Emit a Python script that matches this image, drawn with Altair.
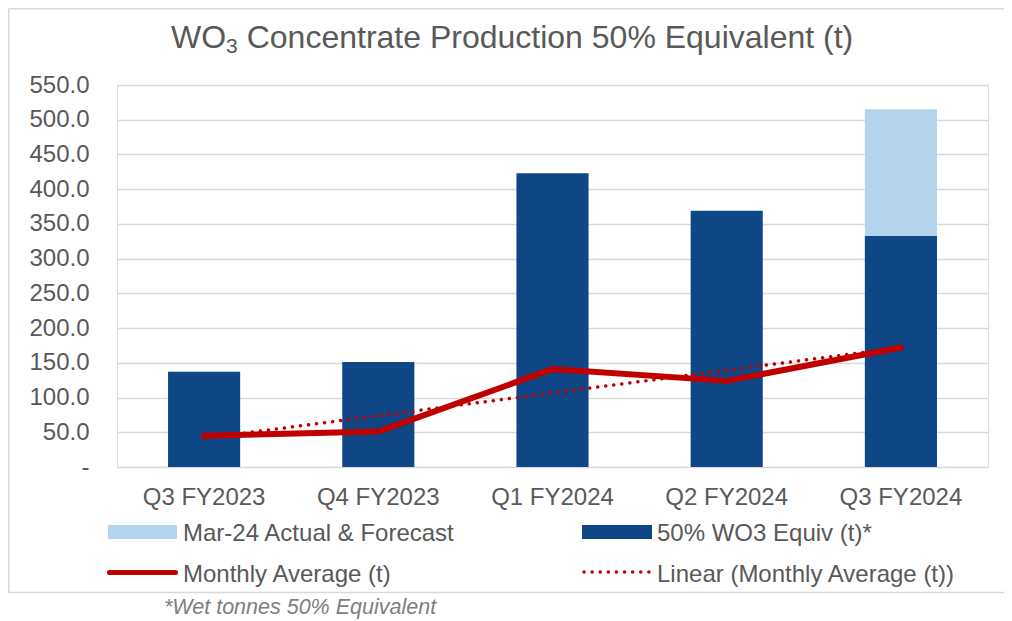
import altair as alt
import pandas as pd

# ---- data ----
categories = ["Q3 FY2023", "Q4 FY2023", "Q1 FY2024", "Q2 FY2024", "Q3 FY2024"]
equiv_50 = [137, 151, 423, 369, 333]          # 50% WO3 Equiv (t)*
mar24_forecast = [0, 0, 0, 0, 182]            # Mar-24 Actual & Forecast (stacked on top)
monthly_avg = [45, 51, 141, 124, 172]         # Monthly Average (t)
y_ticks = list(range(0, 551, 50))

S_EQUIV = "50% WO3 Equiv (t)*"
S_FC = "Mar-24 Actual & Forecast"

DARK = "#0E4686"
LIGHT = "#B4D4EE"
RED = "#C00000"
TXT = "#595959"
GRID = "#D9D9D9"
FONT = "Liberation Sans"

W, H = 871, 382

bars_df = pd.DataFrame(
    [{"cat": c, "series": S_EQUIV, "value": v, "ord": 0} for c, v in zip(categories, equiv_50)]
    + [{"cat": c, "series": S_FC, "value": v, "ord": 1} for c, v in zip(categories, mar24_forecast) if v > 0]
)
line_df = pd.DataFrame({"cat": categories, "avg": monthly_avg, "idx": list(range(1, len(categories) + 1))})

cat_js = "[" + ",".join("'" + c + "'" for c in categories) + "]"

x_axis = alt.Axis(title=None, labelAngle=0, labelFontSize=24, labelColor=TXT, labelFont=FONT,
                  labelPadding=18, ticks=False, domain=False, grid=False)
y_axis = alt.Axis(title=None, values=y_ticks, labelFontSize=24, labelColor=TXT, labelFont=FONT,
                  labelPadding=28, ticks=False, domain=False, grid=True, gridColor=GRID, gridWidth=1.5,
                  labelExpr="datum.value == 0 ? '-\u00a0\u00a0' : format(datum.value, '.1f')")
x_enc = alt.X("cat:N", sort=categories, axis=x_axis,
              scale=alt.Scale(paddingInner=0.586, paddingOuter=0.293))
y_scale = alt.Scale(domain=[0, 550], nice=False)

bars = alt.Chart(bars_df).mark_bar().encode(
    x=x_enc,
    y=alt.Y("value:Q", stack="zero", scale=y_scale, axis=y_axis),
    color=alt.Color("series:N", scale=alt.Scale(domain=[S_FC, S_EQUIV], range=[LIGHT, DARK]), legend=None),
    order=alt.Order("ord:Q", sort="ascending"),
)

line = alt.Chart(line_df).mark_line(color=RED, strokeWidth=6, strokeCap="round", strokeJoin="round").encode(
    x=x_enc,
    y=alt.Y("avg:Q", scale=y_scale, axis=y_axis),
)

trend = alt.Chart(line_df).transform_regression("idx", "avg").transform_calculate(
    cat=cat_js + "[round(datum.idx) - 1]"
).mark_line(color=RED, strokeWidth=3.5, strokeCap="round", strokeDash=[0.1, 8]).encode(
    x=x_enc,
    y=alt.Y("avg:Q", scale=y_scale, axis=y_axis),
)

one = pd.DataFrame({"d": [0]})

def txt(text, x, y, size, color=TXT, style="normal", align="left"):
    return alt.Chart(one).mark_text(text=text, font=FONT, fontSize=size, color=color, fontStyle=style,
                                    align=align, baseline="alphabetic").encode(
        x=alt.value(x), y=alt.value(y))

def rect(x, x2, y, y2, fill):
    return alt.Chart(one).mark_rect(color=fill).encode(
        x=alt.value(x), x2=alt.value(x2), y=alt.value(y), y2=alt.value(y2))

def rule(x, x2, y, y2, color, width, dash=None, cap="butt"):
    kw = dict(color=color, strokeWidth=width, strokeCap=cap)
    if dash:
        kw["strokeDash"] = dash
    return alt.Chart(one).mark_rule(**kw).encode(
        x=alt.value(x), x2=alt.value(x2), y=alt.value(y), y2=alt.value(y2))

# chart frame (left, top, bottom edges)
frame = [
    rule(-108.25, -108.25, -76.25, 507.5, GRID, 1.5),
    rule(-108.25, 900, -76.25, -76.25, GRID, 1.5),
    rule(-108.25, 900, 507.5, 507.5, GRID, 1.5),
]

# title with subscript
title = [
    txt("WO", 54, -36.7, 32),
    txt("3", 109.1, -31.7, 21),
    txt("Concentrate Production 50% Equivalent (t)", 129.7, -36.7, 32),
]

# legend
legend = [
    rect(-9, 60, 440, 454, LIGHT),
    txt(S_FC, 66, 456, 24),
    rect(465, 535, 440, 454, DARK),
    txt("50% WO3 Equiv (t)*", 540, 456, 24),
    rule(-7.5, 58.5, 487.5, 487.5, RED, 5, cap="round"),
    txt("Monthly Average (t)", 66, 496.7, 24),
    rule(467, 535, 487, 487, RED, 3.5, dash=[0.1, 8], cap="round"),
    txt("Linear (Monthly Average (t))", 540, 496.7, 24),
]

footnote = [txt("*Wet tonnes 50% Equivalent", 47, 528.5, 21.5, color="#7F7F7F", style="italic")]

chart = alt.layer(bars, line, trend, *frame, *title, *legend, *footnote).properties(
    width=W, height=H,
    autosize=alt.AutoSizeParams(type="none"),
    padding={"left": 109, "top": 77, "right": 16, "bottom": 152},
).configure_view(stroke=None).configure(background="white")

chart.save("out.html", embed_options={"renderer": "svg", "actions": False})
